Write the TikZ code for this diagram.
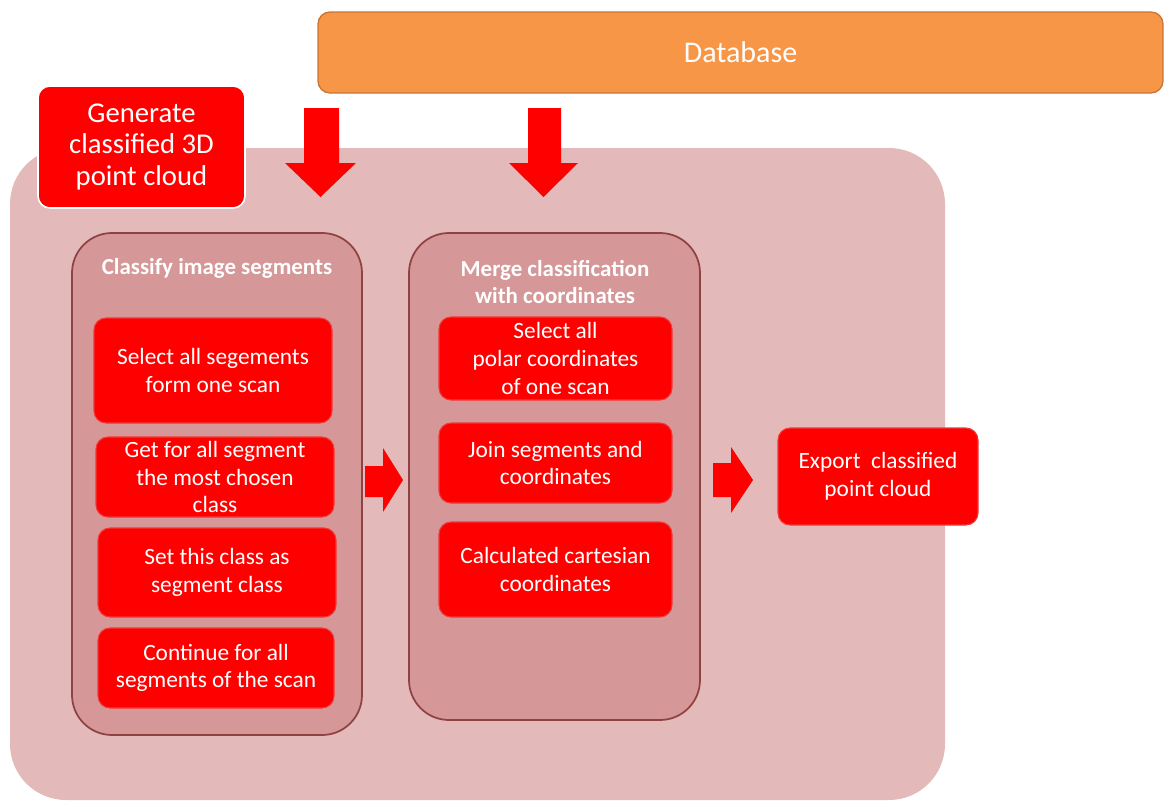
\documentclass[tikz,border=0pt]{standalone}
\usepackage{fontspec}
\setmainfont{Carlito}
\definecolor{bgpink}{HTML}{E4B9B9}
\definecolor{contfill}{HTML}{D59797}
\definecolor{contdraw}{HTML}{8E4242}
\definecolor{boxred}{HTML}{FF0000}
\definecolor{boxedge}{HTML}{F23A3A}
\definecolor{dbfill}{HTML}{F79646}
\definecolor{dbdraw}{HTML}{C97535}
\tikzset{
  redbox/.style={fill=boxred, draw=boxedge, line width=0.8pt, rounded corners=9pt,
    text=white, align=center, inner sep=0pt, font=\fontsize{17.5}{20.8}\selectfont},
  container/.style={fill=contfill, draw=contdraw, line width=1.3pt, rounded corners=30pt, inner sep=0pt},
  ctitle/.style={text=white, align=center, font=\bfseries\fontsize{17.2}{20.5}\selectfont},
  blockarrow/.style={fill=boxred, draw=none},
}
\begin{document}
\begin{tikzpicture}[x=0.75pt, y=-0.75pt]
\useasboundingbox (0,0) rectangle (1165,803);
% background
\node[fill=bgpink, rounded corners=42pt, inner sep=0pt, minimum width=935*0.75pt, minimum height=652*0.75pt] (bg) at (477.5,474) {};
% database
\node[fill=dbfill, draw=dbdraw, line width=1pt, rounded corners=9pt, inner sep=0pt,
  minimum width=845*0.75pt, minimum height=81*0.75pt, text=white,
  font=\fontsize{22.5}{26}\selectfont] (db) at (740.5,52.5) {Database};
% generate
\node[fill=boxred, draw=white, line width=1.2pt, rounded corners=9pt, inner sep=0pt,
  minimum width=207*0.75pt, minimum height=122*0.75pt, text=white, align=center,
  font=\fontsize{21.5}{23.5}\selectfont] (gen) at (141.5,147) {Generate\\classified 3D\\point cloud};
% containers
\node[container, minimum width=290*0.75pt, minimum height=502*0.75pt] (left) at (217,484) {};
\node[container, minimum width=291*0.75pt, minimum height=487*0.75pt] (mid) at (554.5,476.5) {};
\node[ctitle] (lt) at (217,268) {Classify image segments};
\node[ctitle] (mt) at (555,282) {Merge classification\\with coordinates};
% left column
\node[redbox, minimum width=238*0.75pt, minimum height=105*0.75pt] (l1) at (213,370.5) {Select all segements\\form one scan};
\node[redbox, minimum width=238*0.75pt, minimum height=80*0.75pt] (l2) at (215,477) {Get for all segment\\the most chosen\\class};
\node[redbox, minimum width=238*0.75pt, minimum height=89*0.75pt] (l3) at (217,572.5) {Set this class as\\segment class};
\node[redbox, minimum width=236*0.75pt, minimum height=80*0.75pt] (l4) at (216,668) {Continue for all\\segments of the scan};
% middle column
\node[redbox, minimum width=233*0.75pt, minimum height=83*0.75pt] (m1) at (555.5,358.5) {Select all\\polar coordinates\\of one scan};
\node[redbox, minimum width=233*0.75pt, minimum height=80*0.75pt] (m2) at (555.5,463) {Join segments and\\coordinates};
\node[redbox, minimum width=233*0.75pt, minimum height=95*0.75pt] (m3) at (555.5,569.5) {Calculated cartesian\\coordinates};
% export
\node[redbox, minimum width=200*0.75pt, minimum height=97*0.75pt] (ex) at (878,476.5) {Export~~classified\\point cloud};
% block arrows
\fill[blockarrow] (304,108) -- (339,108) -- (339,163) -- (356,163) -- (320.5,197) -- (285,163) -- (304,163) -- cycle;
\fill[blockarrow] (528,108) -- (561,108) -- (561,163) -- (578,163) -- (543.5,197) -- (509,163) -- (528,163) -- cycle;
\fill[blockarrow] (365,466) -- (383,466) -- (383,448) -- (403,480) -- (383,512) -- (383,497) -- (365,497) -- cycle;
\fill[blockarrow] (713,463) -- (731,463) -- (731,447) -- (753,480) -- (731,513) -- (731,497) -- (713,497) -- cycle;
\end{tikzpicture}
\end{document}
